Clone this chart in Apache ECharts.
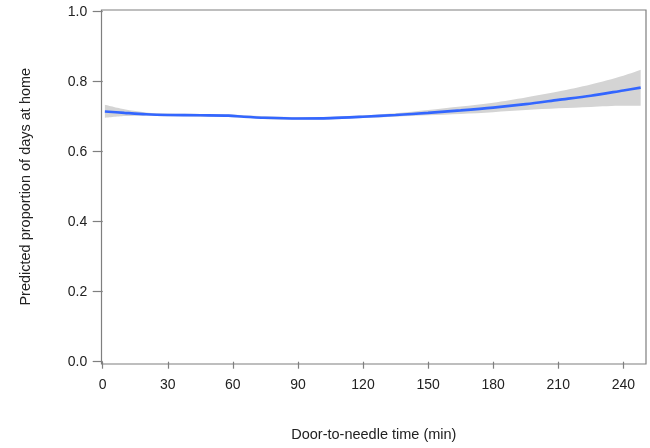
<!DOCTYPE html>
<html>
<head>
<meta charset="utf-8">
<script src="https://cdn.jsdelivr.net/npm/echarts@6/dist/echarts.min.js"></script>
<style>
html,body{margin:0;padding:0;background:#fff;}
#c{width:650px;height:448px;}
</style>
</head>
<body>
<div id="c"></div>
<script>
// Door-to-needle time (min)
var times = [1, 10, 20, 30, 45, 58, 65, 75, 90, 105, 120, 135, 150, 165, 180, 195, 210, 225, 240, 248];
// predicted proportion (fit)
var fit   = [0.715, 0.711, 0.707, 0.705, 0.704, 0.703, 0.700, 0.697, 0.695, 0.696, 0.700, 0.705, 0.711, 0.718, 0.726, 0.736, 0.748, 0.760, 0.775, 0.783];
// confidence band
var lower = [0.697, 0.702, 0.703, 0.701, 0.700, 0.699, 0.696, 0.693, 0.691, 0.692, 0.696, 0.700, 0.704, 0.708, 0.713, 0.719, 0.724, 0.728, 0.731, 0.731];
var upper = [0.734, 0.721, 0.712, 0.709, 0.708, 0.707, 0.704, 0.701, 0.699, 0.700, 0.704, 0.710, 0.719, 0.729, 0.740, 0.755, 0.772, 0.792, 0.817, 0.834];
var xTicks = [0, 30, 60, 90, 120, 150, 180, 210, 240];
var yTicks = [0.0, 0.2, 0.4, 0.6, 0.8, 1.0];

var chart = echarts.init(document.getElementById('c'), null, {renderer: 'canvas'});
var font = 'Liberation Sans, Arial, Helvetica, sans-serif';
var txt = '#222';
var axisGray = '#7f7f7f';

// value first so that the stacked dimension is y
var lowerData = times.map(function (t, i) { return [lower[i], t]; });
var bandData = times.map(function (t, i) { return [+(upper[i] - lower[i]).toFixed(4), t]; });
var fitData = times.map(function (t, i) { return [t, fit[i]]; });

chart.setOption({
  animation: false,
  backgroundColor: '#ffffff',
  grid: [
    {left: 102.7, top: 11.7, width: 542.3, height: 350, show: false, containLabel: false},
    {left: 101.5, top: 10, right: 4, bottom: 84, show: true, borderColor: axisGray, borderWidth: 1.2, backgroundColor: 'transparent'}
  ],
  xAxis: [
    {
      type: 'value', gridIndex: 0, min: 0, max: 250, interval: 30,
      offset: 4.3,
      name: 'Door-to-needle time (min)', nameLocation: 'middle', nameGap: 61,
      nameTextStyle: {fontFamily: font, fontSize: 14.5, color: txt},
      axisLine: {show: false},
      axisTick: {show: true, length: 7, lineStyle: {color: axisGray, width: 1.2},
        customValues: xTicks},
      axisLabel: {show: true, margin: 12, fontFamily: font, fontSize: 14, color: txt,
        customValues: xTicks, formatter: function (v) { return String(v); }},
      splitLine: {show: false}
    },
    {type: 'value', gridIndex: 1, show: false, min: 0, max: 1}
  ],
  yAxis: [
    {
      type: 'value', gridIndex: 0, min: 0, max: 1, interval: 0.2,
      offset: 2.5,
      name: 'Predicted proportion of days at home', nameLocation: 'middle', nameGap: 67,
      nameRotate: 90,
      nameTextStyle: {fontFamily: font, fontSize: 14.5, color: txt},
      axisLine: {show: false},
      axisTick: {show: true, length: 10, lineStyle: {color: axisGray, width: 1.2}},
      axisLabel: {show: true, margin: 13, fontFamily: font, fontSize: 14, color: txt,
        formatter: function (v) { return v.toFixed(1); }},
      splitLine: {show: false}
    },
    {type: 'value', gridIndex: 1, show: false, min: 0, max: 1}
  ],
  series: [
    {
      type: 'line', xAxisIndex: 0, yAxisIndex: 0, stack: 'band', data: lowerData,
      encode: {x: 1, y: 0},
      showSymbol: false, symbol: 'none', smooth: 0.3, z: 1,
      lineStyle: {width: 0, opacity: 0}, silent: true
    },
    {
      type: 'line', xAxisIndex: 0, yAxisIndex: 0, stack: 'band', data: bandData,
      encode: {x: 1, y: 0},
      showSymbol: false, symbol: 'none', smooth: 0.3, z: 1,
      lineStyle: {width: 0, opacity: 0}, areaStyle: {color: '#d4d4d4', opacity: 1}, silent: true
    },
    {
      type: 'line', xAxisIndex: 0, yAxisIndex: 0, data: fitData,
      showSymbol: false, symbol: 'none', smooth: 0.3, z: 3,
      lineStyle: {color: '#3366ff', width: 2.6}, silent: true
    }
  ]
});
</script>
</body>
</html>
